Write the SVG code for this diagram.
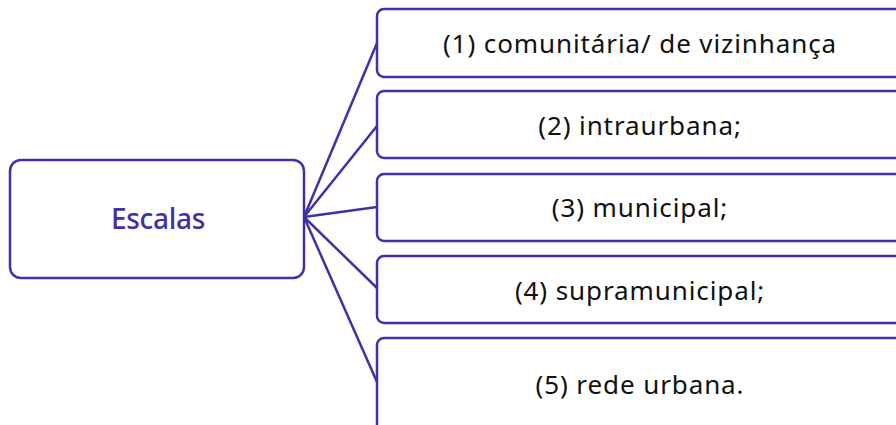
<svg xmlns="http://www.w3.org/2000/svg" width="896" height="425" viewBox="0 0 896 425">
<style>
.box{fill:#fff;stroke:#3f31a8;stroke-width:2.5}
.ln{stroke:#3f31a8;stroke-width:2.5;fill:none}
.t{font-family:"Noto Sans",sans-serif;font-size:26px;fill:#111;text-anchor:middle;letter-spacing:0.9px}
.h{font-family:"Noto Sans",sans-serif;font-size:28px;font-weight:500;fill:#3f31a8;text-anchor:middle;letter-spacing:-0.3px}
</style>
<rect width="896" height="425" fill="#fff"/>
<g id="connectors">
<line class="ln" x1="304" y1="217" x2="377" y2="43"/>
<line class="ln" x1="304" y1="217" x2="377" y2="126"/>
<line class="ln" x1="304" y1="217" x2="377" y2="207"/>
<line class="ln" x1="304" y1="217" x2="377" y2="288"/>
<line class="ln" x1="304" y1="217" x2="377" y2="382"/>
</g>
<g id="escalas">
<rect class="box" x="10" y="160" width="294" height="118" rx="11"/>
<text class="h" x="158" y="229">Escalas</text>
</g>
<g id="n1">
<rect class="box" x="377" y="9" width="540" height="68" rx="7"/>
<text class="t" x="640" y="53">(1) comunitária/ de vizinhança</text>
</g>
<g id="n2">
<rect class="box" x="377" y="91" width="540" height="67" rx="7"/>
<text class="t" x="640" y="135">(2) intraurbana;</text>
</g>
<g id="n3">
<rect class="box" x="377" y="174" width="540" height="67" rx="7"/>
<text class="t" x="640" y="217">(3) municipal;</text>
</g>
<g id="n4">
<rect class="box" x="377" y="256" width="540" height="67" rx="7"/>
<text class="t" x="640" y="300">(4) supramunicipal;</text>
</g>
<g id="n5">
<rect class="box" x="377" y="338" width="540" height="120" rx="7"/>
<text class="t" x="640" y="394">(5) rede urbana.</text>
</g>
</svg>
